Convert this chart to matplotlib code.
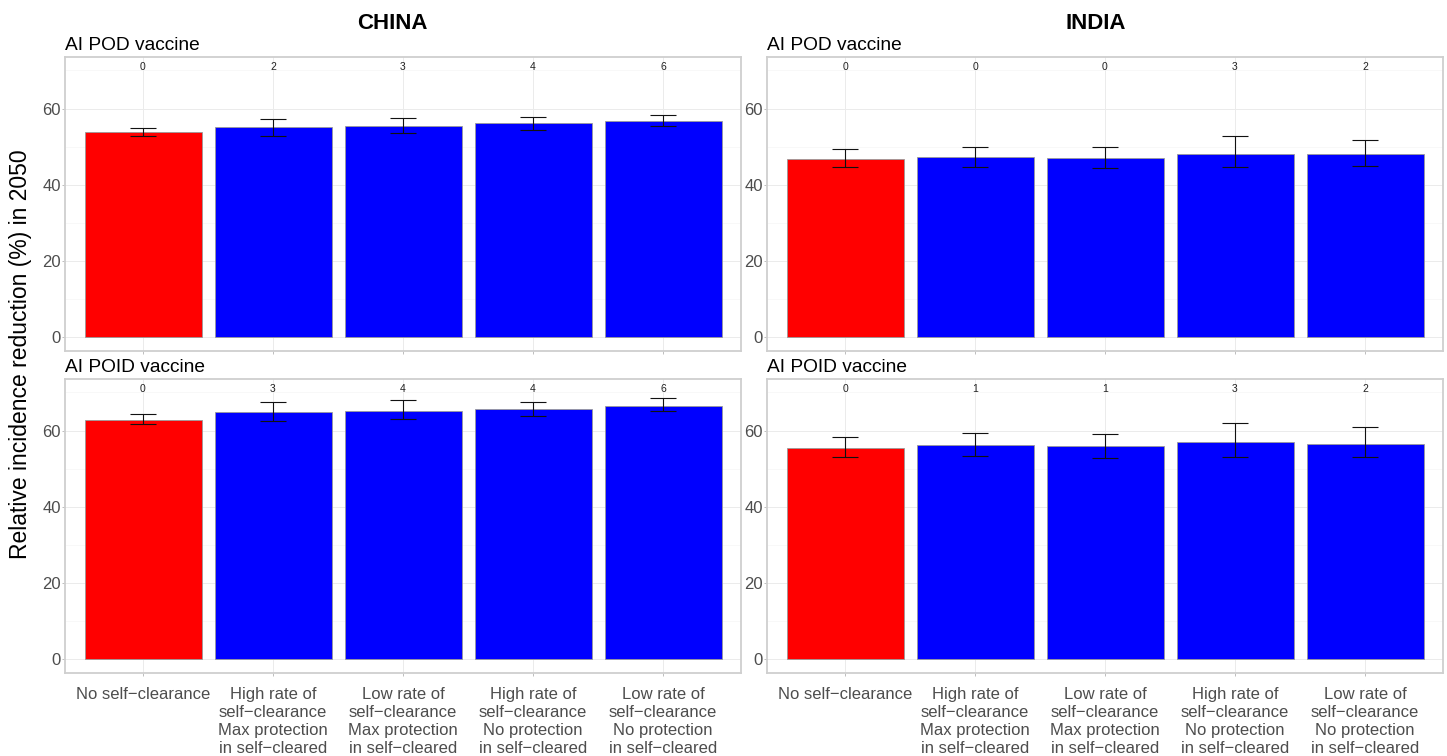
import numpy as np
import matplotlib
matplotlib.use("Agg")
import matplotlib.pyplot as plt
from matplotlib.ticker import MultipleLocator

plt.rcParams['font.family'] = ['Liberation Sans', 'DejaVu Sans']

# scenario labels (x axis)
scenarios = [
    "No self\u2212clearance",
    "High rate of\nself\u2212clearance\nMax protection\nin self\u2212cleared",
    "Low rate of\nself\u2212clearance\nMax protection\nin self\u2212cleared",
    "High rate of\nself\u2212clearance\nNo protection\nin self\u2212cleared",
    "Low rate of\nself\u2212clearance\nNo protection\nin self\u2212cleared",
]
bar_colors = ["#FF0000", "#0000FF", "#0000FF", "#0000FF", "#0000FF"]

# China, AI POD vaccine
china_pod = [53.8, 55.1, 55.5, 56.1, 56.8]
china_pod_lo = [52.8, 52.8, 53.7, 54.5, 55.5]
china_pod_hi = [55.0, 57.3, 57.6, 57.8, 58.3]
china_pod_n = [0, 2, 3, 4, 6]

# India, AI POD vaccine
india_pod = [46.9, 47.2, 47.0, 48.2, 48.0]
india_pod_lo = [44.7, 44.7, 44.3, 44.8, 44.9]
india_pod_hi = [49.5, 49.9, 50.0, 52.8, 51.8]
india_pod_n = [0, 0, 0, 3, 2]

# China, AI POID vaccine
china_poid = [62.9, 64.9, 65.2, 65.7, 66.5]
china_poid_lo = [61.7, 62.4, 63.1, 63.9, 65.2]
china_poid_hi = [64.3, 67.5, 67.9, 67.5, 68.5]
china_poid_n = [0, 3, 4, 4, 6]

# India, AI POID vaccine
india_poid = [55.5, 56.2, 56.0, 57.1, 56.6]
india_poid_lo = [53.1, 53.4, 52.7, 53.1, 53.0]
india_poid_hi = [58.3, 59.3, 59.2, 62.0, 60.9]
india_poid_n = [0, 1, 1, 3, 2]

W, H = 1447, 756
fig = plt.figure(figsize=(W / 100, H / 100), dpi=100)


def box(x0, y0, x1, y1):
    return [x0 / W, 1 - y1 / H, (x1 - x0) / W, (y1 - y0) / H]


def panel(rect, vals, lo, hi, counts, subtitle, show_xlabels):
    ax = fig.add_axes(rect)
    x = np.arange(1, len(vals) + 1)
    vals = np.array(vals)
    ax.bar(x, vals, width=0.9, color=bar_colors, edgecolor="#9a9a9a",
           linewidth=0.6, zorder=2)
    ax.errorbar(x, vals, yerr=[vals - np.array(lo), np.array(hi) - vals],
                fmt='none', ecolor='#111111', elinewidth=0.8, capsize=9.3,
                capthick=0.8, zorder=3)
    for xi, n in zip(x, counts):
        ax.text(xi, 71, str(n), ha='center', va='center', fontsize=7.5,
                color='#222222', zorder=4)
    ax.set_xlim(0.4, len(vals) + 0.6)
    ax.set_ylim(-3.5, 73.45)
    ax.yaxis.set_major_locator(MultipleLocator(20))
    ax.yaxis.set_minor_locator(MultipleLocator(10))
    ax.set_xticks(x)
    if show_xlabels:
        ax.set_xticklabels(scenarios, fontsize=12, color='#4d4d4d',
                           linespacing=1.27, va='top')
    else:
        ax.set_xticklabels([])
    ax.tick_params(axis='y', labelsize=12, labelcolor='#4d4d4d',
                   color='#b3b3b3', length=2, width=0.6, pad=1)
    ax.tick_params(axis='x', color='#b3b3b3', length=2, width=0.6, pad=8)
    ax.tick_params(axis='y', which='minor', length=0)
    ax.grid(which='major', color='#ebebeb', linewidth=0.7, zorder=0)
    ax.grid(which='minor', axis='y', color='#f5f5f5', linewidth=0.5, zorder=0)
    ax.set_axisbelow(True)
    for s in ax.spines.values():
        s.set_color('#cfcfcf')
        s.set_linewidth(1.3)
    ax.text(0, 1.024, subtitle, transform=ax.transAxes, ha='left',
            va='baseline', fontsize=13.8)
    return ax


panel(box(65, 57.3, 741, 350.7), china_pod, china_pod_lo, china_pod_hi,
      china_pod_n, "AI POD vaccine", False)
panel(box(767, 57.3, 1443, 350.7), india_pod, india_pod_lo, india_pod_hi,
      india_pod_n, "AI POD vaccine", False)
panel(box(65, 379.3, 741, 672.7), china_poid, china_poid_lo, china_poid_hi,
      china_poid_n, "AI POID vaccine", True)
panel(box(767, 379.3, 1443, 672.7), india_poid, india_poid_lo, india_poid_hi,
      india_poid_n, "AI POID vaccine", True)

fig.text(392 / W, 1 - 29 / H, "CHINA", ha='center', va='baseline',
         fontsize=16, fontweight='bold')
fig.text(1096 / W, 1 - 29 / H, "INDIA", ha='center', va='baseline',
         fontsize=16, fontweight='bold')
fig.text(21 / W, 1 - 354 / H, "Relative incidence reduction (%) in 2050",
         rotation=90, ha='center', va='center', fontsize=16.5)

fig.savefig("out.png", dpi=100)
